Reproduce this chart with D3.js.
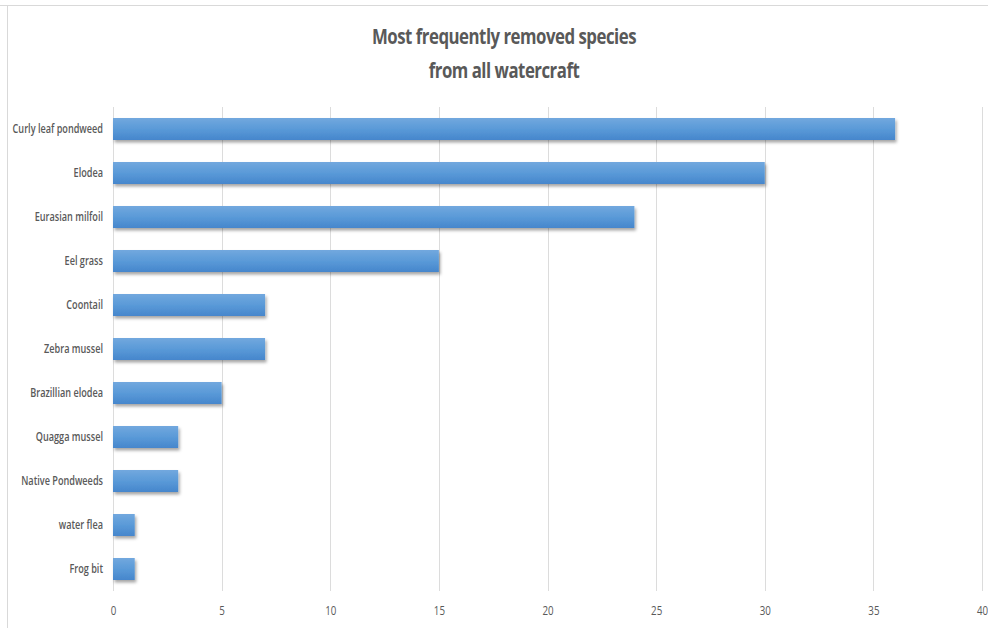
<!DOCTYPE html>
<html>
<head>
<meta charset="utf-8">
<script src="https://cdn.jsdelivr.net/npm/d3@7"></script>
<style>
  html, body { margin: 0; padding: 0; background: #fff; }
  svg { display: block; }
</style>
</head>
<body>
<svg id="chart" width="988" height="628"></svg>
<script>
// Species removed from watercraft, most frequent first
const species = [
  "Curly leaf pondweed", "Elodea", "Eurasian milfoil", "Eel grass", "Coontail",
  "Zebra mussel", "Brazillian elodea", "Quagga mussel", "Native Pondweeds",
  "water flea", "Frog bit"
];
const counts = [36, 30, 24, 15, 7, 7, 5, 3, 3, 1, 1];
const xTicks = [0, 5, 10, 15, 20, 25, 30, 35, 40];
const titleLines = ["Most frequently removed species", "from all watercraft"];

const W = 988, H = 628;
const margin = { left: 113, right: 5, top: 107, bottom: 37 };
const svg = d3.select("#chart");
const textColor = "#595959";
const fontFamily = "'Open Sans', 'Noto Sans', sans-serif";

const defs = svg.append("defs");
const grad = defs.append("linearGradient")
  .attr("id", "barFill").attr("x1", 0).attr("y1", 0).attr("x2", 0).attr("y2", 1);
grad.append("stop").attr("offset", "0%").attr("stop-color", "#72a8de");
grad.append("stop").attr("offset", "50%").attr("stop-color", "#5a9ad8");
grad.append("stop").attr("offset", "100%").attr("stop-color", "#4686cc");
const shadow = defs.append("filter").attr("id", "barShadow")
  .attr("x", "-10%").attr("y", "-30%").attr("width", "130%").attr("height", "180%");
shadow.append("feDropShadow")
  .attr("dx", 1.5).attr("dy", 2.5).attr("stdDeviation", 1.5)
  .attr("flood-color", "#000").attr("flood-opacity", 0.35);

// chart frame
svg.append("line").attr("x1", 0).attr("x2", W).attr("y1", 5.5).attr("y2", 5.5)
  .attr("stroke", "#d9d9d9").attr("stroke-width", 1);
svg.append("line").attr("x1", 7.5).attr("x2", 7.5).attr("y1", 5).attr("y2", H)
  .attr("stroke", "#d9d9d9").attr("stroke-width", 1);

const x = d3.scaleLinear().domain([0, 40]).range([margin.left, 982]);
const y = d3.scaleBand().domain(species)
  .range([margin.top, H - margin.bottom]).paddingInner(0.5).paddingOuter(0.25);

// vertical gridlines
svg.append("g").selectAll("line").data(xTicks).join("line")
  .attr("x1", d => Math.round(x(d)) + 0.5).attr("x2", d => Math.round(x(d)) + 0.5)
  .attr("y1", margin.top).attr("y2", H - margin.bottom)
  .attr("stroke", "#dcdcdc").attr("stroke-width", 1);

// bars
svg.append("g").selectAll("rect").data(species).join("rect")
  .attr("x", x(0))
  .attr("y", d => y(d))
  .attr("width", (d, i) => x(counts[i]) - x(0))
  .attr("height", y.bandwidth())
  .attr("fill", "url(#barFill)")
  .attr("filter", "url(#barShadow)");

// category labels (condensed)
svg.append("g").selectAll("text").data(species).join("text")
  .attr("transform", d => `translate(103,${y(d) + y.bandwidth() / 2}) scale(0.73,1)`)
  .attr("text-anchor", "end").attr("dy", "0.35em")
  .attr("font-family", fontFamily).attr("font-size", 12.5).attr("font-weight", 600)
  .attr("fill", textColor)
  .text(d => d);

// x tick labels
const xAxis = d3.axisBottom(x).tickValues(xTicks).tickSize(0).tickPadding(0);
const axG = svg.append("g").attr("transform", `translate(0,${H - margin.bottom})`).call(xAxis);
axG.select(".domain").remove();
axG.selectAll("text")
  .attr("y", 0).attr("dy", "0")
  .attr("transform", "translate(0,24) scale(0.78,1)")
  .attr("font-family", fontFamily).attr("font-size", 12.5)
  .attr("fill", textColor);

// title
svg.append("g").selectAll("text").data(titleLines).join("text")
  .attr("transform", (d, i) => `translate(504,${44 + i * 34}) scale(0.8,1)`)
  .attr("text-anchor", "middle")
  .attr("font-family", fontFamily).attr("font-size", 21).attr("font-weight", 700)
  .attr("fill", textColor)
  .attr("letter-spacing", -0.6)
  .text(d => d);
</script>
</body>
</html>
